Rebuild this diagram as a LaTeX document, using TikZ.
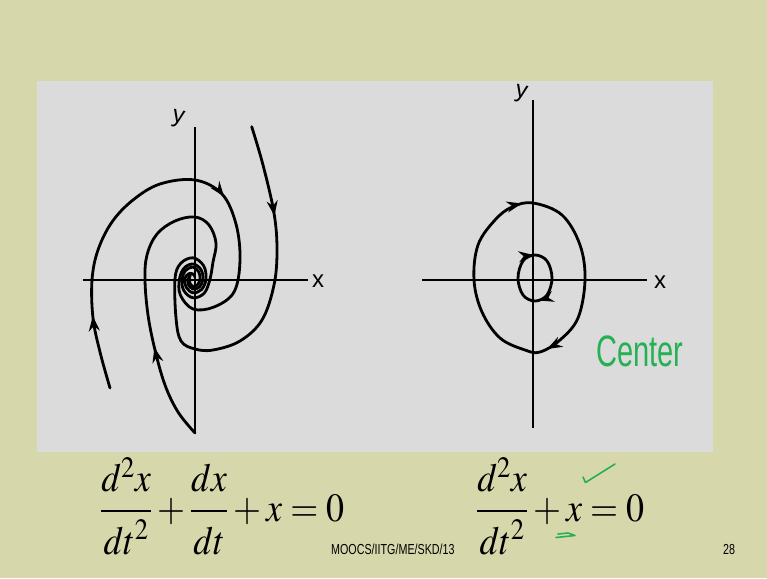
\documentclass[tikz,border=0pt]{standalone}
\usepackage{mathptmx}
\usepackage[no-math]{fontspec}
\newfontfamily\slidefont{Liberation Sans}
\usetikzlibrary{arrows.meta, decorations.markings}

\definecolor{slidebg}{RGB}{214,215,171}
\definecolor{panelgray}{RGB}{219,219,219}
\definecolor{pengreen}{RGB}{38,176,84}

\begin{document}
\begin{tikzpicture}[x=1pt, y=-1pt,
    curve/.style={line width=2.8pt, line cap=round, line join=round},
    axis/.style={line width=2.3pt},
    arrowat/.style={postaction={decorate, decoration={markings,
        mark=at position #1 with {\arrow{Stealth[length=15pt,width=11pt,inset=5pt]}}}}},
    lbl/.style={font=\slidefont\fontsize{24}{24}\selectfont, inner sep=0pt},
    eqn/.style={font=\fontsize{40}{40}\selectfont, anchor=base west, inner sep=0pt},
    foot/.style={font=\slidefont\fontsize{14.5}{14.5}\selectfont, anchor=base west, inner sep=0pt}]

  % -- Slide and panel --
  \useasboundingbox (0,0) rectangle (767,578);
  \fill[slidebg] (0,0) rectangle (767,578);
  \fill[panelgray] (37,81) rectangle (713,452);

  % -- Left portrait: axes --
  \coordinate (lyT) at (195,127);
  \coordinate (lyB) at (195,433);
  \coordinate (lxL) at (83,280);
  \coordinate (lxR) at (308,280);
  \draw[axis] (lyT) -- (lyB);
  \draw[axis] (lxL) -- (lxR);
  \node[lbl] (lxlab) at (318,281) {x};
  \node[lbl, rotate=-12] (lylab) at (178,119) {y};

  % -- Left portrait: spiral arms --
  \draw[curve, arrowat=92pt] plot[smooth, tension=0.6] coordinates {
    (251.7,126.7) (263,165) (274,213) (277,250) (274,285) (262,320) (240,341)
    (213,350) (195,349) (181,341) (176,318) (175,279) (180.6,263.5) (193,257.8)
    (203.6,265.7) (206,279) (201.5,289.6) (193,292.8) (186.3,287.4) (184.5,279)
    (188.8,273.7) (193,274) (194.8,276.8)};
  \draw[curve, arrowat=74pt, arrowat=304pt] plot[smooth, tension=0.6] coordinates {
    (110,388) (100,352) (93,318) (92,280) (98,250) (112,222) (133,200) (160,184)
    (195,180) (222,194) (236,224) (240,260) (234,292) (214,307) (193,309)
    (180.3,294.9) (179.5,279) (184.2,268) (193,264) (200.8,269.3) (203,279)
    (199.4,287) (193,289) (188.4,284.7) (188,279) (190.5,275.9)};
  \draw[curve, arrowat=96pt] plot[smooth, tension=0.6] coordinates {
    (195,433) (178,412) (165,385) (155,350) (148,315) (145,280) (147,255)
    (157,234) (175,221) (195,217) (209,225) (216,243) (213,262) (210,279)
    (204.3,293.1) (193,297.8) (183.8,290.5) (182,279) (185.9,270.2) (193,267.1)
    (198.7,271.9) (200,279) (197.6,284.7) (193,286.5) (189.8,283) (190,279)};

  % -- Right portrait: axes --
  \coordinate (ryT) at (533,100);
  \coordinate (ryB) at (533,428);
  \coordinate (rxL) at (422,280);
  \coordinate (rxR) at (647,280);
  \draw[axis] (ryT) -- (ryB);
  \draw[axis] (rxL) -- (rxR);
  \node[lbl] (rxlab) at (660,282) {x};
  \node[lbl, rotate=-12] (rylab) at (521,94) {y};

  % -- Right portrait: closed orbits --
  \draw[curve, arrowat=154pt, arrowat=368pt] plot[smooth cycle, tension=0.6] coordinates {
    (533,203) (562,215) (580,245) (585,280) (578,318) (560,340) (540,352)
    (525,350) (500,338) (482,312) (474,280) (478,245) (495,220) (512,207)};
  \draw[curve, arrowat=46pt, arrowat=112pt] plot[smooth cycle, tension=0.6] coordinates {
    (535,255) (547,261) (552,278) (547,295) (535,301) (523,295) (518,278) (523,261)};

  % -- Handwritten note --
  \node[font=\slidefont\fontsize{44}{44}\selectfont, text=pengreen, anchor=base west, inner sep=0pt]
    (centernote) at (596,366) {\scalebox{0.66}[1]{Center}};

  % -- Equations --
  \node[eqn] (eqdamped) at (100,521) {\scalebox{0.9}[1]{%
    $\displaystyle\frac{\raisebox{2pt}{$d^2x$}}{\raisebox{-6pt}{$dt^2$}}
      +\frac{\raisebox{2pt}{$dx$}}{\raisebox{-6pt}{$dt$}}+x=0$}};
  \node[eqn] (equndamped) at (476,521) {\scalebox{0.9}[1]{%
    $\displaystyle\frac{\raisebox{2pt}{$d^2x$}}{\raisebox{-6pt}{$dt^2$}}+x=0$}};

  % -- Green pen marks --
  \draw[pengreen, line width=1.6pt, line cap=round, line join=round]
    (583,477) -- (585.5,482.5) -- (615,464);
  \draw[pengreen, line width=1.6pt, line cap=round, line join=round]
    (556,537.5) -- (575,535.5) -- (568,533) -- (558,534);

  % -- Footer --
  \node[foot] (course) at (331,554) {\scalebox{0.74}[1]{MOOCS/IITG/ME/SKD/13}};
  \node[foot] (pageno) at (723,554) {\scalebox{0.74}[1]{28}};

\end{tikzpicture}
\end{document}
